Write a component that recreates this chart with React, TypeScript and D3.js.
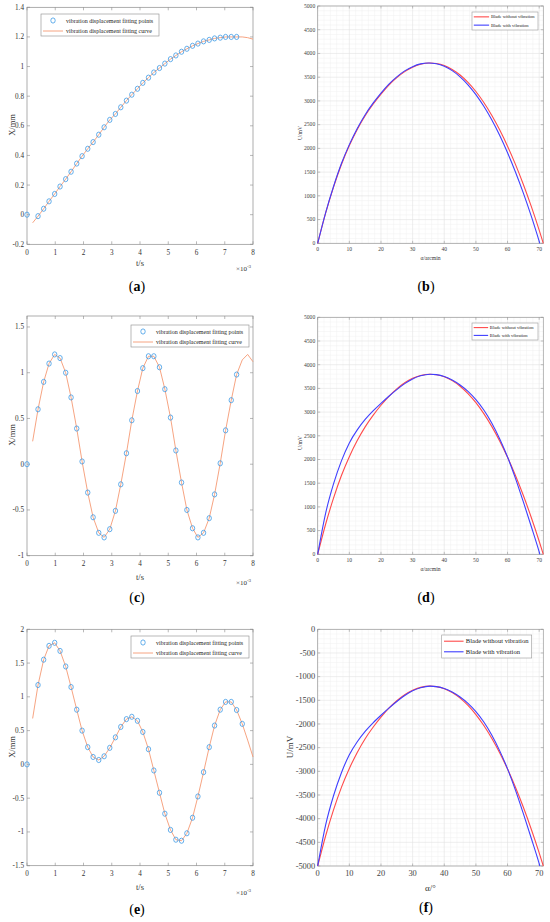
import * as d3 from 'd3'

const serif = '"Liberation Serif", "Times New Roman", serif'

// sample instants in ms (axis reads t/s ×10^-3)
const sampleTimes = [0, 0.39, 0.59, 0.78, 0.98, 1.17, 1.37, 1.56, 1.76, 1.95, 2.15, 2.34, 2.54, 2.73, 2.93, 3.13, 3.32, 3.52, 3.71, 3.91, 4.1, 4.3, 4.49, 4.69, 4.88, 5.08, 5.27, 5.47, 5.66, 5.86, 6.05, 6.25, 6.45, 6.64, 6.84, 7.03, 7.23, 7.42, 7.62]
const curveTimes = [0.2, 0.39, 0.59, 0.78, 0.98, 1.17, 1.37, 1.56, 1.76, 1.95, 2.15, 2.34, 2.54, 2.73, 2.93, 3.13, 3.32, 3.52, 3.71, 3.91, 4.1, 4.3, 4.49, 4.69, 4.88, 5.08, 5.27, 5.47, 5.66, 5.86, 6.05, 6.25, 6.45, 6.64, 6.84, 7.03, 7.23, 7.42, 7.62, 7.81, 8]

const pointsA = [0, -0.01, 0.04, 0.09, 0.14, 0.19, 0.24, 0.29, 0.345, 0.395, 0.445, 0.49, 0.54, 0.59, 0.64, 0.68, 0.725, 0.77, 0.81, 0.85, 0.89, 0.925, 0.96, 0.99, 1.02, 1.05, 1.075, 1.1, 1.12, 1.14, 1.155, 1.17, 1.18, 1.19, 1.195, 1.2, 1.2, 1.2]
const curveA = [-0.055, -0.01, 0.04, 0.09, 0.14, 0.19, 0.24, 0.29, 0.345, 0.395, 0.445, 0.49, 0.54, 0.59, 0.64, 0.68, 0.725, 0.77, 0.81, 0.85, 0.89, 0.925, 0.96, 0.99, 1.02, 1.05, 1.075, 1.1, 1.12, 1.14, 1.155, 1.17, 1.18, 1.19, 1.195, 1.2, 1.2, 1.2, 1.2, 1.195, 1.185]

const pointsC = [0, 0.6, 0.9, 1.1, 1.2, 1.16, 1, 0.73, 0.39, 0.03, -0.31, -0.58, -0.75, -0.8, -0.71, -0.51, -0.22, 0.12, 0.48, 0.8, 1.05, 1.18, 1.18, 1.06, 0.82, 0.51, 0.15, -0.2, -0.5, -0.7, -0.8, -0.75, -0.59, -0.33, 0.01, 0.37, 0.7, 0.98]
const curveC = [0.25, 0.6, 0.9, 1.1, 1.2, 1.16, 1, 0.73, 0.39, 0.03, -0.31, -0.58, -0.75, -0.8, -0.71, -0.51, -0.22, 0.12, 0.48, 0.8, 1.05, 1.18, 1.18, 1.06, 0.82, 0.51, 0.15, -0.2, -0.5, -0.7, -0.8, -0.75, -0.59, -0.33, 0.01, 0.37, 0.7, 0.98, 1.14, 1.2, 1.12]

const pointsE = [0, 1.175, 1.55, 1.755, 1.8, 1.68, 1.45, 1.145, 0.81, 0.5, 0.255, 0.11, 0.065, 0.12, 0.245, 0.4, 0.555, 0.67, 0.705, 0.645, 0.48, 0.225, -0.09, -0.42, -0.73, -0.97, -1.115, -1.13, -1.02, -0.79, -0.475, -0.115, 0.255, 0.575, 0.81, 0.925, 0.925, 0.805, 0.6]
const curveE = [0.68, 1.175, 1.55, 1.755, 1.8, 1.68, 1.45, 1.145, 0.81, 0.5, 0.255, 0.11, 0.065, 0.12, 0.245, 0.4, 0.555, 0.67, 0.705, 0.645, 0.48, 0.225, -0.09, -0.42, -0.73, -0.97, -1.115, -1.13, -1.02, -0.79, -0.475, -0.115, 0.255, 0.575, 0.81, 0.925, 0.925, 0.805, 0.6, 0.36, 0.11]

// [alpha (arcmin), U (mV)]
const redB: [number, number][] = [[0, 0], [2.5, 634], [5, 1184], [7.5, 1661], [10, 2060], [12.5, 2399], [15, 2689], [17.5, 2930], [20, 3144], [22.5, 3334], [25, 3491], [27.5, 3618], [30, 3712], [32.5, 3773], [35.5, 3800], [37.5, 3789], [40, 3745], [42.5, 3664], [45, 3546], [47.5, 3391], [50, 3199], [52.5, 2968], [55, 2699], [57.5, 2392], [60, 2047], [62.5, 1663], [65, 1240], [67.5, 777], [70, 276], [71.3, 0]]
const blueB: [number, number][] = [[0, 0], [2.5, 642], [5, 1197], [7.5, 1680], [10, 2079], [12.5, 2420], [15, 2710], [17.5, 2952], [20, 3165], [22.5, 3355], [25, 3508], [27.5, 3633], [30, 3722], [32.5, 3780], [35, 3800], [37.5, 3783], [40, 3729], [42.5, 3638], [45, 3508], [47.5, 3340], [50, 3133], [52.5, 2886], [55, 2601], [57.5, 2275], [60, 1909], [62.5, 1503], [65, 1057], [67.5, 571], [70.2, 0]]
const redD: [number, number][] = [[0, 0], [2.5, 634], [5, 1184], [7.5, 1661], [10, 2060], [12.5, 2399], [15, 2689], [17.5, 2930], [20, 3144], [22.5, 3334], [25, 3491], [27.5, 3618], [30, 3712], [32.5, 3773], [35.5, 3800], [37.5, 3789], [40, 3745], [42.5, 3664], [45, 3546], [47.5, 3391], [50, 3199], [52.5, 2968], [55, 2699], [57.5, 2392], [60, 2047], [62.5, 1663], [65, 1240], [67.5, 777], [70, 276], [71.3, 0]]
const blueD: [number, number][] = [[0, 0], [2.5, 864], [5, 1484], [7.5, 1971], [10, 2350], [12.5, 2625], [15, 2845], [17.5, 3025], [20, 3185], [22.5, 3335], [25, 3475], [27.5, 3600], [30, 3700], [32.5, 3765], [35.5, 3800], [37.5, 3790], [40, 3750], [42.5, 3676], [45, 3571], [47.5, 3436], [50, 3261], [52.5, 3043], [55, 2769], [57.5, 2437], [60, 2052], [62.5, 1603], [65, 1105], [67.5, 587], [70, 51], [70.22, 0]]
const redF: [number, number][] = [[0, -5000], [2.5, -4366], [5, -3816], [7.5, -3339], [10, -2940], [12.5, -2601], [15, -2311], [17.5, -2070], [20, -1856], [22.5, -1666], [25, -1509], [27.5, -1382], [30, -1288], [32.5, -1227], [35.5, -1200], [37.5, -1211], [40, -1255], [42.5, -1336], [45, -1454], [47.5, -1609], [50, -1801], [52.5, -2032], [55, -2301], [57.5, -2608], [60, -2953], [62.5, -3337], [65, -3760], [67.5, -4223], [70, -4724], [71.3, -5000]]
const blueF: [number, number][] = [[0, -5000], [2.5, -4136], [5, -3516], [7.5, -3029], [10, -2650], [12.5, -2375], [15, -2155], [17.5, -1975], [20, -1815], [22.5, -1665], [25, -1525], [27.5, -1400], [30, -1300], [32.5, -1235], [35.5, -1200], [37.5, -1210], [40, -1250], [42.5, -1324], [45, -1429], [47.5, -1564], [50, -1739], [52.5, -1957], [55, -2231], [57.5, -2563], [60, -2948], [62.5, -3397], [65, -3895], [67.5, -4413], [70, -4949], [70.22, -5000]]

const ticksA = [-0.2, 0, 0.2, 0.4, 0.6, 0.8, 1, 1.2, 1.4]
const ticksC = [-1, -0.5, 0, 0.5, 1, 1.5]
const ticksE = [-1.5, -1, -0.5, 0, 0.5, 1, 1.5, 2]
const timeTicks = [0, 1, 2, 3, 4, 5, 6, 7, 8]
const alphaTicks = [0, 10, 20, 30, 40, 50, 60, 70]
const uTicksPos = [0, 500, 1000, 1500, 2000, 2500, 3000, 3500, 4000, 4500, 5000]
const uTicksNeg = [-5000, -4500, -4000, -3500, -3000, -2500, -2000, -1500, -1000, -500, 0]

const pointColor = '#3d9be6'
const curveColor = '#f59a74'
const redColor = '#ff4a4a'
const blueColor = '#3f3fff'

interface Box { x0: number; x1: number; y0: number; y1: number }

function Caption({ x, y, letter }: { x: number; y: number; letter: string }) {
  return (
    <text x={x} y={y} textAnchor="middle" fontFamily={serif} fontSize={14} fill="#000">
      (<tspan fontWeight="bold">{letter}</tspan>)
    </text>
  )
}

function TimePanel(props: {
  box: Box; yDomain: [number, number]; yTicks: number[]
  points: number[]; curve: number[]; legendY: number; legendX: number
  yLabelY: number; xLabelY: number; caption: string; captionY: number
}) {
  const { box, yDomain, yTicks, points, curve, legendX, legendY } = props
  const x = d3.scaleLinear().domain([0, 8]).range([box.x0, box.x1])
  const y = d3.scaleLinear().domain(yDomain).range([box.y1, box.y0])
  const line = d3.line<number>().x((_, i) => x(curveTimes[i])).y(d => y(d))
  const tl = 3
  return (
    <g fontFamily={serif}>
      <rect x={box.x0} y={box.y0} width={box.x1 - box.x0} height={box.y1 - box.y0} fill="#fff" stroke="#8a8a8a" strokeWidth={0.7} />
      {yTicks.map(t => (
        <g key={'y' + t}>
          <line x1={box.x0} x2={box.x0 + tl} y1={y(t)} y2={y(t)} stroke="#8a8a8a" strokeWidth={0.6} />
          <line x1={box.x1} x2={box.x1 - tl} y1={y(t)} y2={y(t)} stroke="#8a8a8a" strokeWidth={0.6} />
          <text x={box.x0 - 3} y={y(t) + 2.5} textAnchor="end" fontSize={7.2} fill="#333">{t}</text>
        </g>
      ))}
      {timeTicks.map(t => (
        <g key={'x' + t}>
          <line x1={x(t)} x2={x(t)} y1={box.y1} y2={box.y1 - tl} stroke="#8a8a8a" strokeWidth={0.6} />
          <line x1={x(t)} x2={x(t)} y1={box.y0} y2={box.y0 + tl} stroke="#8a8a8a" strokeWidth={0.6} />
          <text x={x(t)} y={box.y1 + 10.5} textAnchor="middle" fontSize={7.2} fill="#333">{t}</text>
        </g>
      ))}
      <path d={line(curve) ?? ''} fill="none" stroke={curveColor} strokeWidth={0.9} />
      {points.map((v, i) => (
        <ellipse key={i} cx={x(sampleTimes[i])} cy={y(v)} rx={2.2} ry={2.6} fill="none" stroke={pointColor} strokeWidth={0.8} />
      ))}
      <text transform={`translate(15,${props.yLabelY}) rotate(-90)`} textAnchor="middle" fontSize={8.5} fill="#333">X/mm</text>
      <text x={(box.x0 + box.x1) / 2} y={props.xLabelY} textAnchor="middle" fontSize={8.5} fill="#333">t/s</text>
      <text x={box.x1 - 17} y={props.xLabelY + 5} fontSize={7} fill="#333">
        ×10<tspan dy={-3} fontSize={5}>-3</tspan>
      </text>
      <g transform={`translate(${legendX},${legendY})`}>
        <rect x={0} y={0} width={118} height={22} fill="#fff" stroke="#8a8a8a" strokeWidth={0.6} />
        <ellipse cx={12} cy={6.5} rx={2.2} ry={2.6} fill="none" stroke={pointColor} strokeWidth={0.8} />
        <line x1={2} x2={22} y1={17} y2={17} stroke={curveColor} strokeWidth={0.9} />
        <text x={25} y={8.6} fontSize={6} fill="#222">vibration displacement fitting points</text>
        <text x={25} y={19} fontSize={6} fill="#222">vibration displacement fitting curve</text>
      </g>
      <Caption x={137} y={props.captionY} letter={props.caption} />
    </g>
  )
}

function VoltagePanel(props: {
  box: Box; yDomain: [number, number]; yTicks: number[]
  red: [number, number][]; blue: [number, number][]
  big: boolean; legend: { x: number; y: number; w: number; h: number }
  yLabelX: number; yLabelY: number; xLabelY: number; xLabel: string
  caption: string; captionY: number
}) {
  const { box, yDomain, yTicks, red, blue, big, legend } = props
  const x = d3.scaleLinear().domain([0, 71.3]).range([box.x0, box.x1])
  const y = d3.scaleLinear().domain(yDomain).range([box.y1, box.y0])
  const line = d3.line<[number, number]>().x(d => x(d[0])).y(d => y(d[1])).curve(d3.curveMonotoneX)
  const minorX = d3.range(2, 71.3, 2).filter(v => v % 10 !== 0)
  const minorY = d3.range(yDomain[0] + 100, yDomain[1], 100).filter(v => v % 500 !== 0)
  const fs = big ? 8.4 : 5.6
  const lfs = big ? 9 : 5.6
  const gfs = big ? 6.6 : 4.6
  const tl = 2.5
  return (
    <g fontFamily={serif}>
      <rect x={box.x0} y={box.y0} width={box.x1 - box.x0} height={box.y1 - box.y0} fill="#fff" />
      {minorX.map(v => <line key={'mx' + v} x1={x(v)} x2={x(v)} y1={box.y0} y2={box.y1} stroke="#f1f1f1" strokeWidth={0.5} />)}
      {minorY.map(v => <line key={'my' + v} x1={box.x0} x2={box.x1} y1={y(v)} y2={y(v)} stroke="#f1f1f1" strokeWidth={0.5} />)}
      {alphaTicks.map(v => <line key={'gx' + v} x1={x(v)} x2={x(v)} y1={box.y0} y2={box.y1} stroke="#e2e2e2" strokeWidth={0.6} />)}
      {yTicks.map(v => <line key={'gy' + v} x1={box.x0} x2={box.x1} y1={y(v)} y2={y(v)} stroke="#e2e2e2" strokeWidth={0.6} />)}
      <rect x={box.x0} y={box.y0} width={box.x1 - box.x0} height={box.y1 - box.y0} fill="none" stroke="#9a9a9a" strokeWidth={0.7} />
      {yTicks.map(v => (
        <g key={'yt' + v}>
          <line x1={box.x0} x2={box.x0 + tl} y1={y(v)} y2={y(v)} stroke="#888" strokeWidth={0.5} />
          <line x1={box.x1} x2={box.x1 - tl} y1={y(v)} y2={y(v)} stroke="#888" strokeWidth={0.5} />
          <text x={box.x0 - 2.5} y={y(v) + fs * 0.33} textAnchor="end" fontSize={fs} fill="#444">{v}</text>
        </g>
      ))}
      {alphaTicks.map(v => (
        <g key={'xt' + v}>
          <line x1={x(v)} x2={x(v)} y1={box.y1} y2={box.y1 - tl} stroke="#888" strokeWidth={0.5} />
          <line x1={x(v)} x2={x(v)} y1={box.y0} y2={box.y0 + tl} stroke="#888" strokeWidth={0.5} />
          <text x={x(v)} y={box.y1 + fs + 2} textAnchor="middle" fontSize={fs} fill="#444">{v}</text>
        </g>
      ))}
      <path d={line(red) ?? ''} fill="none" stroke={redColor} strokeWidth={1.1} />
      <path d={line(blue) ?? ''} fill="none" stroke={blueColor} strokeWidth={1.1} />
      <text transform={`translate(${props.yLabelX},${props.yLabelY}) rotate(-90)`} textAnchor="middle" fontSize={lfs} fill="#333">U/mV</text>
      <text x={(box.x0 + box.x1) / 2} y={props.xLabelY} textAnchor="middle" fontSize={lfs} fill="#333">{props.xLabel}</text>
      <g transform={`translate(${legend.x},${legend.y})`}>
        <rect x={0} y={0} width={legend.w} height={legend.h} fill="#fff" stroke="#9a9a9a" strokeWidth={0.6} />
        <line x1={legend.h * 0.1} x2={legend.h * 0.95} y1={legend.h * 0.27} y2={legend.h * 0.27} stroke={redColor} strokeWidth={1.1} />
        <line x1={legend.h * 0.1} x2={legend.h * 0.95} y1={legend.h * 0.73} y2={legend.h * 0.73} stroke={blueColor} strokeWidth={1.1} />
        <text x={legend.h * 1.05} y={legend.h * 0.27 + gfs * 0.33} fontSize={gfs} fill="#222">Blade without vibration</text>
        <text x={legend.h * 1.05} y={legend.h * 0.73 + gfs * 0.33} fontSize={gfs} fill="#222">Blade with vibration</text>
      </g>
      <Caption x={426} y={props.captionY} letter={props.caption} />
    </g>
  )
}

export default function App() {
  return (
    <svg width={550} height={922} viewBox="0 0 550 922" style={{ position: 'absolute', left: 0, top: 0, background: '#fff' }}>
      <rect width={550} height={922} fill="#fff" />
      <TimePanel box={{ x0: 27, x1: 253, y0: 7.3, y1: 244.3 }} yDomain={[-0.2, 1.4]} yTicks={ticksA}
        points={pointsA} curve={curveA} legendX={41} legendY={14} yLabelY={125} xLabelY={266} caption="a" captionY={291} />
      <TimePanel box={{ x0: 27, x1: 253, y0: 316, y1: 555.7 }} yDomain={[-1, 1.62]} yTicks={ticksC}
        points={pointsC} curve={curveC} legendX={131} legendY={325} yLabelY={435} xLabelY={579.5} caption="c" captionY={602} />
      <TimePanel box={{ x0: 27, x1: 253, y0: 629.3, y1: 865.7 }} yDomain={[-1.5, 2]} yTicks={ticksE}
        points={pointsE} curve={curveE} legendX={131} legendY={636} yLabelY={747} xLabelY={890} caption="e" captionY={914} />
      <VoltagePanel box={{ x0: 317.7, x1: 543.3, y0: 6, y1: 243.3 }} yDomain={[0, 5000]} yTicks={uTicksPos}
        red={redB} blue={blueB} big={false} legend={{ x: 472, y: 12, w: 66, h: 18 }}
        yLabelX={302} yLabelY={133} xLabelY={260} xLabel="α/arcmin" caption="b" captionY={291} />
      <VoltagePanel box={{ x0: 317.7, x1: 543.3, y0: 317.3, y1: 554.3 }} yDomain={[0, 5000]} yTicks={uTicksPos}
        red={redD} blue={blueD} big={false} legend={{ x: 472, y: 323, w: 66, h: 17 }}
        yLabelX={302} yLabelY={443} xLabelY={571} xLabel="α/arcmin" caption="d" captionY={602} />
      <VoltagePanel box={{ x0: 317.7, x1: 543.3, y0: 629.3, y1: 866 }} yDomain={[-5000, 0]} yTicks={uTicksNeg}
        red={redF} blue={blueF} big={true} legend={{ x: 441.7, y: 635, w: 90, h: 23 }}
        yLabelX={293} yLabelY={747} xLabelY={891} xLabel="α/°" caption="f" captionY={912} />
    </svg>
  )
}
